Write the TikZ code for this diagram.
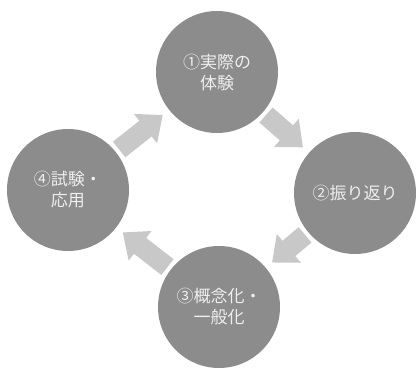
\documentclass[tikz,border=0pt]{standalone}
\usepackage{fontspec}
\usepackage{tikz}
\usetikzlibrary{arrows.meta,positioning}
\newfontfamily\cjk{Noto Sans CJK JP}
\definecolor{cycleGray} {RGB}{140, 140, 140}
\definecolor{arrowGray} {RGB}{200, 200, 200}
\definecolor{labelWhite}{RGB}{238, 238, 238}

\tikzset{
  stage/.style={circle,fill=cycleGray,minimum size=122pt,inner sep=0pt,
                text=labelWhite,align=center,
                font=\cjk\fontsize{17}{21}\selectfont},
  cycleArrow/.style={draw=arrowGray,line width=20pt,
                     -{Triangle[length=22pt,width=36pt]},
                     shorten <=4pt,shorten >=8pt}
}

\begin{document}
\begin{tikzpicture}[x=1pt,y=1pt]

    \useasboundingbox (0,0) rectangle (418,372);

    % ════════ etapas do ciclo ════════
    \node[stage] (taiken)    at (217,300) {①実際の\\体験};
    \node[stage] (furikaeri) at (355,179) {②振り返り};
    \node[stage] (gainen)    at (219,65)  {③概念化・\\一般化};
    \node[stage] (ouyou)     at (68,182)  {④試験・\\応用};

    % setas entre as etapas
    \foreach \from/\to in {taiken/furikaeri, furikaeri/gainen,
                           gainen/ouyou, ouyou/taiken}{
      \draw[cycleArrow] (\from) -- (\to);
    }

  \end{tikzpicture}
\end{document}
